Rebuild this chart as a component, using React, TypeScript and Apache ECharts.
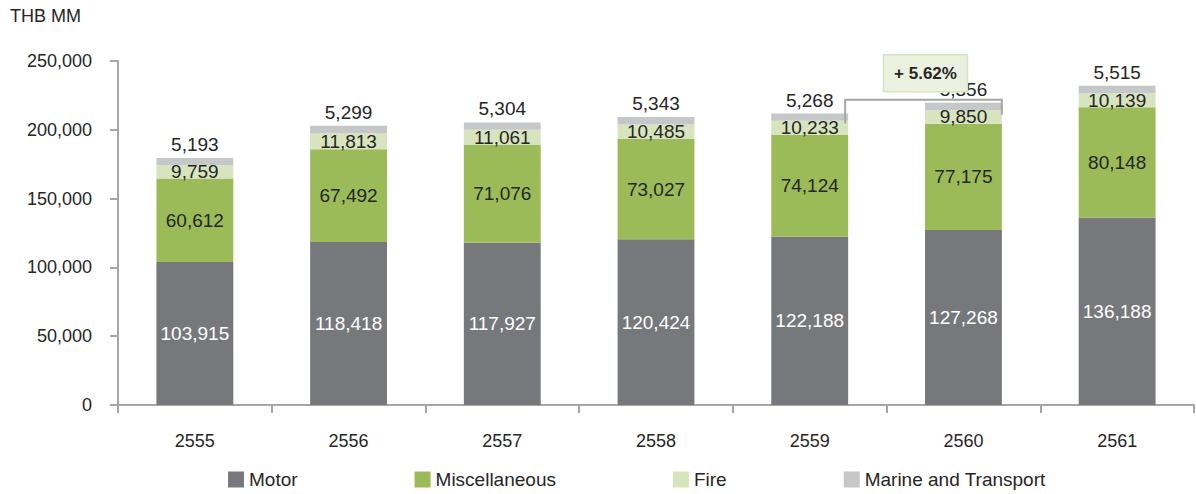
import React, { useEffect, useRef } from "react";
import * as echarts from "echarts";

const categories = ["2555", "2556", "2557", "2558", "2559", "2560", "2561"];
const motor = [103915, 118418, 117927, 120424, 122188, 127268, 136188];
const misc = [60612, 67492, 71076, 73027, 74124, 77175, 80148];
const fire = [9759, 11813, 11061, 10485, 10233, 9850, 10139];
const marine = [5193, 5299, 5304, 5343, 5268, 5356, 5515];
const seriesNames = ["Motor", "Miscellaneous", "Fire", "Marine and Transport"];
const growthLabel = "+ 5.62%";
const growthFrom = 4;
const growthTo = 5;
const unitLabel = "THB MM";

const FONT = "'Liberation Sans', Arial, sans-serif";
const fmt = (v: number) => v.toLocaleString("en-US");

export default function App() {
  const ref = useRef<HTMLDivElement>(null);
  useEffect(() => {
    if (!ref.current) return;
    const chart = echarts.init(ref.current, null, { renderer: "svg" });
    const labelBase = {
      show: true,
      fontSize: 19,
      fontFamily: FONT,
      formatter: (p: any) => fmt(p.value),
    };
    chart.setOption({
      animation: false,
      textStyle: { fontFamily: FONT },
      grid: { left: 118, right: 2, top: 61, bottom: 89, containLabel: false },
      legend: {
        left: 228,
        top: 470,
        padding: 0,
        icon: "rect",
        itemWidth: 16,
        itemHeight: 16,
        itemGap: 117,
        textStyle: { fontSize: 19, color: "#262626", fontFamily: FONT },
        data: seriesNames,
      },
      xAxis: {
        type: "category",
        data: categories,
        axisLine: { lineStyle: { color: "#a6a6a6", width: 2 } },
        axisTick: { show: true, length: 8, alignWithLabel: false, lineStyle: { color: "#a6a6a6", width: 2 } },
        axisLabel: { fontSize: 18, color: "#262626", margin: 27, fontFamily: FONT },
      },
      yAxis: {
        type: "value",
        min: 0,
        max: 250000,
        interval: 50000,
        axisLine: { show: true, lineStyle: { color: "#a6a6a6", width: 2 } },
        axisTick: { show: true, length: 8, lineStyle: { color: "#a6a6a6", width: 2 } },
        splitLine: { show: false },
        axisLabel: { fontSize: 18, color: "#262626", margin: 26, fontFamily: FONT, formatter: (v: number) => fmt(v) },
      },
      series: [
        {
          name: seriesNames[0], type: "bar", stack: "t", data: motor, barWidth: "50%",
          itemStyle: { color: "#77787b" },
          label: { ...labelBase, position: "inside", color: "#ffffff" },
        },
        {
          name: seriesNames[1], type: "bar", stack: "t", data: misc, barWidth: "50%",
          itemStyle: { color: "#9bbb59" },
          label: { ...labelBase, position: "inside", color: "#262626" },
        },
        {
          name: seriesNames[2], type: "bar", stack: "t", data: fire, barWidth: "50%",
          itemStyle: { color: "#d7e4bd" },
          label: { ...labelBase, position: "inside", color: "#262626" },
        },
        {
          name: seriesNames[3], type: "bar", stack: "t", data: marine, barWidth: "50%",
          itemStyle: { color: "#c6c7c9" },
          label: { ...labelBase, position: "top", distance: 4, color: "#262626" },
        },
      ],
    });

    const total = (i: number) => motor[i] + misc[i] + fire[i] + marine[i];
    const p0 = chart.convertToPixel({ gridIndex: 0 }, [0, 0]) as number[];
    const p1 = chart.convertToPixel({ gridIndex: 0 }, [1, 0]) as number[];
    const halfBar = (p1[0] - p0[0]) * 0.25;
    const a = chart.convertToPixel({ gridIndex: 0 }, [growthFrom, total(growthFrom)]) as number[];
    const b = chart.convertToPixel({ gridIndex: 0 }, [growthTo, total(growthTo)]) as number[];
    const lx = a[0] + halfBar - 3;
    const rx = b[0] + halfBar;
    const topY = Math.min(a[1], b[1]) - 3;
    const midX = (lx + rx) / 2;
    const boxW = 84;
    const boxH = 37;
    chart.setOption({
      graphic: [
        {
          type: "polyline",
          z: 100,
          shape: { points: [[lx, a[1] + 10], [lx, topY], [rx, topY], [rx, b[1] + 12]] },
          style: { stroke: "#a6a6a6", lineWidth: 2, fill: null },
        },
        {
          type: "rect",
          z: 101,
          shape: { x: midX - boxW / 2 + 2, y: topY - 8 - boxH, width: boxW, height: boxH },
          style: { fill: "#ebf1de", stroke: "#d7e4bd", lineWidth: 1.5 },
        },
        {
          type: "text",
          z: 102,
          x: midX + 2,
          y: topY - 8 - boxH / 2,
          style: {
            text: growthLabel, fontSize: 17, fontWeight: "bold", fontFamily: FONT,
            fill: "#262626", align: "center", verticalAlign: "middle",
          },
        },
        {
          type: "text",
          x: 10,
          y: 16,
          style: { text: unitLabel, fontSize: 18, fontFamily: FONT, fill: "#262626", verticalAlign: "middle" },
        },
      ],
    });
    return () => chart.dispose();
  }, []);
  return <div ref={ref} style={{ position: "absolute", left: 0, top: 0, width: 1196, height: 494 }} />;
}
